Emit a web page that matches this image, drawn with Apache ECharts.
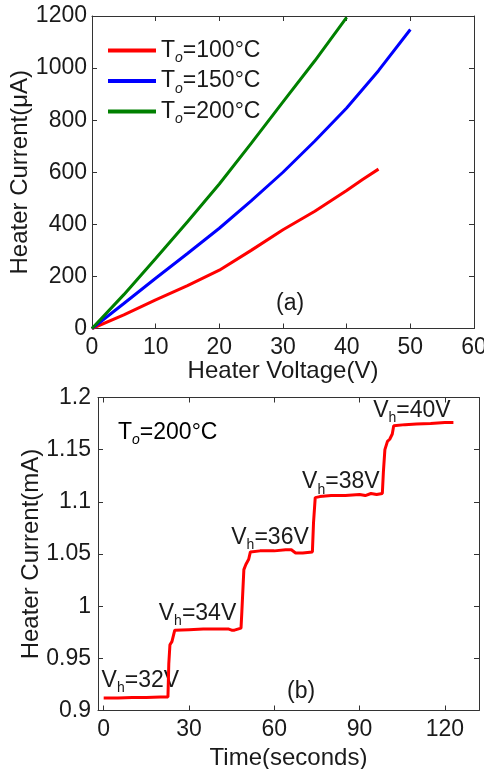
<!DOCTYPE html>
<html>
<head>
<meta charset="utf-8">
<script src="https://cdn.jsdelivr.net/npm/echarts@6/dist/echarts.min.js"></script>
<style>
  html, body { margin: 0; padding: 0; background: #fff; }
  #main { width: 484px; height: 769px; }
</style>
</head>
<body>
<div id="main"></div>
<script>
/* ---------- (a) I-V curves ---------- */
const voltRed = [0, 5, 10, 15, 20, 25, 30, 35, 40, 42.5, 45];
const curRed = [0, 52, 110, 165, 224, 300, 379, 450, 530, 572, 612];
const voltBlue = [0, 5, 10, 15, 20, 25, 30, 35, 40, 45, 50];
const curBlue = [0, 96, 193, 288, 385, 490, 600, 720, 847, 990, 1148];
const voltGreen = [0, 5, 10, 15, 20, 25, 30, 35, 40];
const curGreen = [0, 130, 269, 410, 555, 711, 870, 1028, 1195];
const legendNames = ['100', '150', '200'];

/* ---------- (b) current steps ---------- */
const timeS = [0, 5, 10, 15, 20, 22.6, 22.9, 23.3, 24.0, 25.0, 30, 35, 40, 44, 45, 46,
  48.3, 48.6, 49.3, 50.0, 51.0, 51.6, 55, 60, 64, 66, 67.5, 68, 70, 73.4, 73.8, 74.4,
  76, 80, 85, 90, 92, 94, 96, 98.0, 98.4, 98.9, 99.8, 100.6, 101.5, 102, 106, 110, 115, 120, 123];
const currentMA = [0.912, 0.912, 0.9125, 0.9125, 0.913, 0.913, 0.945, 0.963, 0.966, 0.977, 0.9775, 0.978, 0.978, 0.978, 0.977, 0.977,
  0.979, 0.995, 1.035, 1.040, 1.045, 1.052, 1.053, 1.053, 1.054, 1.054, 1.051, 1.052, 1.051, 1.052, 1.08, 1.104,
  1.105, 1.106, 1.106, 1.107, 1.106, 1.108, 1.107, 1.108, 1.13, 1.15, 1.158, 1.16, 1.165, 1.173, 1.174, 1.1745, 1.175, 1.176, 1.176];

// V_h labels on panel (b)
const annotT = [12.9, 33, 58.5, 83.4, 108.4];
const annotI = [0.929, 0.993, 1.066, 1.119, 1.1876];
const annotV = ['32', '34', '36', '38', '40'];

const zip = (a, b) => a.map((v, i) => [v, b[i]]);

const FONT = "'Liberation Sans', Arial, sans-serif";
const TXT = '#1a1a1a';
const AX = '#333';

const chart = echarts.init(document.getElementById('main'));

const richSub = {
  a: { fontSize: 23, fontFamily: FONT, color: TXT },
  s: { fontSize: 14, fontFamily: FONT, color: TXT, fontStyle: 'italic', padding: [16, 0, 0, 0] },
  h: { fontSize: 14, fontFamily: FONT, color: TXT, padding: [16, 0, 0, 0] }
};

function boxAxes(gridIndex, kind, min, max, interval, custom) {
  const base = {
    gridIndex: gridIndex, type: 'value', min: min, max: max,
    splitLine: { show: false },
    axisLine: { show: true, onZero: false, lineStyle: { color: AX, width: 1 } },
    axisTick: { show: true, inside: true, length: 5, lineStyle: { color: AX } }
  };
  if (interval) base.interval = interval;
  if (custom) {
    base.axisTick.customValues = custom;
  }
  const main = Object.assign({}, base, {
    position: kind === 'x' ? 'bottom' : 'left',
    nameMoveOverlap: false,
    axisLabel: {
      show: true, fontSize: 23, fontFamily: FONT, color: TXT,
      margin: kind === 'x' ? 8 : 5,
      formatter: v => String(+(+v).toFixed(2))
    }
  });
  if (custom) main.axisLabel.customValues = custom;
  const mirror = Object.assign({}, base, {
    position: kind === 'x' ? 'top' : 'right',
    axisLabel: { show: false }
  });
  return [main, mirror];
}

const xa = boxAxes(0, 'x', 0, 60, 10);
const ya = boxAxes(0, 'y', 0, 1200, 200);
const xb = boxAxes(1, 'x', -2, 132, null, [0, 30, 60, 90, 120]);
const yb = boxAxes(1, 'y', 0.9, 1.2, 0.05);

const nameStyle = { fontSize: 24, fontFamily: FONT, color: TXT };
xa[0].name = 'Heater Voltage(V)';
xa[0].nameLocation = 'middle';
xa[0].nameGap = 31;
xa[0].nameTextStyle = nameStyle;
ya[0].name = 'Heater Current(μA)';
ya[0].nameLocation = 'middle';
ya[0].nameGap = 60;
ya[0].nameTextStyle = nameStyle;
xb[0].name = 'Time(seconds)';
xb[0].nameLocation = 'middle';
xb[0].nameGap = 36;
xb[0].nameTextStyle = nameStyle;
yb[0].name = 'Heater Current(mA)';
yb[0].nameLocation = 'middle';
yb[0].nameGap = 55;
yb[0].nameTextStyle = nameStyle;
yb[0].axisLabel.margin = 7;

const lineSeries = (name, data, color, x, y) => ({
  name: name, type: 'line', xAxisIndex: x, yAxisIndex: y,
  data: data, showSymbol: false, smooth: false,
  lineStyle: { color: color, width: 3 }, itemStyle: { color: color },
  z: 5
});

chart.setOption({
  backgroundColor: '#fff',
  animation: false,
  grid: [
    { left: 92, right: 10, top: 16, height: 312.5, containLabel: false, outerBoundsMode: 'none' },
    { left: 98, right: 5, top: 397.5, height: 313, containLabel: false, outerBoundsMode: 'none' }
  ],
  xAxis: [xa[0], xa[1], xb[0], xb[1]],
  yAxis: [ya[0], ya[1], yb[0], yb[1]],
  legend: {
    orient: 'vertical', left: 103, top: 34, itemGap: 4,
    icon: 'rect', itemWidth: 48, itemHeight: 4,
    data: legendNames.map(t => 'T=' + t),
    formatter: n => '{a|T}{s|o}{a|=' + n.slice(2) + '°C}',
    textStyle: { rich: richSub }
  },
  series: [
    lineSeries('T=100', zip(voltRed, curRed), '#ff0000', 0, 0),
    lineSeries('T=150', zip(voltBlue, curBlue), '#0000ff', 0, 0),
    lineSeries('T=200', zip(voltGreen, curGreen), '#008000', 0, 0),
    Object.assign(lineSeries('step', zip(timeS, currentMA), '#ff0000', 2, 2), {
      markPoint: {
        symbol: 'circle', symbolSize: 0, silent: true,
        data: annotT.map((t, i) => ({
          coord: [t, annotI[i]],
          label: {
            show: true, position: 'inside',
            formatter: '{a|V}{h|h}{a|=' + annotV[i] + 'V}',
            rich: richSub
          }
        }))
      }
    })
  ],
  graphic: [
    { type: 'text', left: 276, top: 292, style: { text: '(a)', font: '23px ' + FONT, fill: TXT } },
    { type: 'text', left: 287, top: 680, style: { text: '(b)', font: '23px ' + FONT, fill: TXT } },
    {
      type: 'text', left: 118, top: 421,
      style: { text: '{a|T}{s|o}{a|=200°C}', rich: richSub }
    }
  ]
});
</script>
</body>
</html>
